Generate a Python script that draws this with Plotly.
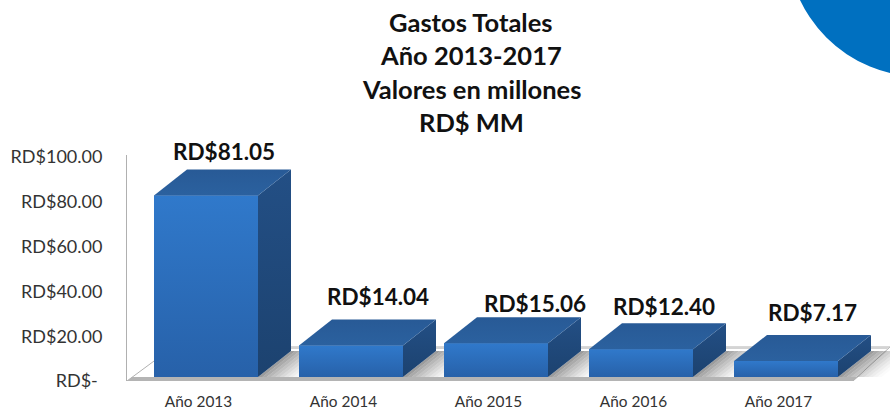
import plotly.graph_objects as go

years = ["Año 2013", "Año 2014", "Año 2015", "Año 2016", "Año 2017"]
values = [81.05, 14.04, 15.06, 12.40, 7.17]
value_labels = ["RD$81.05", "RD$14.04", "RD$15.06", "RD$12.40", "RD$7.17"]
y_ticks = [0, 20, 40, 60, 80, 100]
y_tick_labels = ["RD$-\u00a0", "RD$20.00", "RD$40.00", "RD$60.00", "RD$80.00", "RD$100.00"]
title_lines = ["Gastos Totales", "Año 2013-2017", "Valores en millones", "RD$ MM"]

# Layout constants (pixel frame of the plot area)
W, H = 890, 410
L, T, B = 127, 155, 29
X0_PX, X_STEP = 206, 145     # centre of first bar, px per category
Y0_PX, Y_STEP = 381, 2.24    # px of value 0, px per unit
BAR_W = 104 / X_STEP
HALF = BAR_W / 2
LIFT = 4 / Y_STEP            # bars stand slightly behind the floor's front edge
DX, DY = 33 / X_STEP, 26 / Y_STEP   # 3-D depth
TICK_NUDGE = -7.5 / X_STEP   # category labels sit a little left of the bar fronts
FONT = "Lato, Carlito, 'Open Sans', sans-serif"
INK = "#111111"


def xd(px):
    return (px - X0_PX) / X_STEP


def yd(px):
    return (Y0_PX - px) / Y_STEP


def poly(xs, ys):
    return "M" + " L".join(f"{a:.4f},{b:.4f}" for a, b in zip(xs, ys)) + " Z"


shapes = []
# floor
floor_back = yd(347)
shapes.append(dict(type="path", layer="below", xref="x", yref="y",
                   path=poly([xd(127), xd(853), xd(890), xd(173)], [0, 0, floor_back, floor_back]),
                   fillcolor="#ffffff", line=dict(color="#b0b0b0", width=1)))
# grey band under the bars, back edge band
shapes.append(dict(type="path", layer="below", xref="x", yref="y",
                   path=poly([xd(127), xd(853), xd(858), xd(132)], [0, 0, yd(377), yd(377)]),
                   fillcolor="#b4b4b4", line=dict(width=0)))
shapes.append(dict(type="path", layer="below", xref="x", yref="y",
                   path=poly([xd(173), xd(890), xd(887), xd(170)],
                             [floor_back, floor_back, yd(349), yd(349)]),
                   fillcolor="#d4d4d4", line=dict(width=0)))
# soft shadows to the right of every bar, in steps
steps = 10
for i in range(len(values)):
    right = i + HALF
    for s in range(steps):
        a = 0.6 * (1 - s / steps) ** 1.4
        w0, w1 = right + s * 0.03, right + (s + 1) * 0.03
        shapes.append(dict(type="path", layer="below", xref="x", yref="y",
                           path=poly([w0, w1, w1 + DX, w0 + DX],
                                     [LIFT, LIFT, LIFT + DY, LIFT + DY]),
                           fillcolor=f"rgba(90,90,90,{a:.3f})", line=dict(width=0)))
# decorative blue circle, top right corner
plot_w, plot_h = W - L, H - T - B
cx, cy, r = 921.4, -57.6, 134.4
shapes.append(dict(type="circle", layer="above", xref="paper", yref="paper",
                   x0=(cx - r - L) / plot_w, x1=(cx + r - L) / plot_w,
                   y0=1 - (cy + r - T) / plot_h, y1=1 - (cy - r - T) / plot_h,
                   fillcolor="#0070c0", line=dict(width=0)))

fig = go.Figure()
# front faces as real bars
fig.add_trace(go.Bar(x=list(range(len(values))), y=values, base=LIFT, width=BAR_W,
                     marker=dict(color="#2b6ab6", line=dict(width=0)),
                     hoverinfo="skip", showlegend=False))


def face(xs, ys, c_top, c_bot):
    fig.add_trace(go.Scatter(x=xs, y=ys, mode="lines", fill="toself",
                             line=dict(width=0), hoverinfo="skip", showlegend=False,
                             fillgradient=dict(type="vertical",
                                               colorscale=[[0, c_bot], [1, c_top]])))


for i, v in enumerate(values):
    l, rgt, b, t = i - HALF, i + HALF, LIFT, LIFT + v
    # front gradient
    face([l, rgt, rgt, l, l], [b, b, t, t, b], "#3079cb", "#2761a9")
    # right side
    face([rgt, rgt + DX, rgt + DX, rgt, rgt], [b, b + DY, t + DY, t, b], "#234f85", "#1c426f")
    # top
    face([l, rgt, rgt + DX, l + DX, l], [t, t, t + DY, t + DY, t], "#285a96", "#2b619f")

annotations = []
label_dx = [18, 27, 39, 23, 26]
label_dy = [44, 49, 40, 43, 48]
for i, (v, txt) in enumerate(zip(values, value_labels)):
    annotations.append(dict(x=i, y=v + LIFT, xref="x", yref="y", text=f"<b>{txt}</b>",
                            showarrow=False, xanchor="center", yanchor="middle",
                            xshift=label_dx[i], yshift=label_dy[i],
                            font=dict(family=FONT, size=22.5, color=INK)))
title_y = [22, 55, 89, 122]
for line, py in zip(title_lines, title_y):
    annotations.append(dict(x=(471 - L) / plot_w, y=1 - (py - T) / plot_h, xref="paper", yref="paper",
                            text=f"<b>{line}</b>", showarrow=False, xanchor="center", yanchor="middle",
                            font=dict(family=FONT, size=25.5, color=INK)))

fig.update_layout(
    width=W, height=H, autosize=False,
    margin=dict(l=L, r=0, t=T, b=B, pad=0, autoexpand=False),
    paper_bgcolor="white", plot_bgcolor="rgba(0,0,0,0)",
    showlegend=False, shapes=shapes, annotations=annotations,
    xaxis=dict(range=[xd(L), xd(W)], tickmode="array",
               tickvals=[i + TICK_NUDGE for i in range(len(years))],
               ticktext=years, showgrid=False, zeroline=False, showline=False, automargin=False,
               ticks="outside", ticklen=7, tickcolor="rgba(0,0,0,0)",
               tickfont=dict(family=FONT, size=15.4, color="#333333")),
    yaxis=dict(range=[0, yd(T)], tickmode="array", tickvals=y_ticks, ticktext=y_tick_labels,
               showgrid=False, zeroline=False, showline=True, linecolor="#b0b0b0", linewidth=1,
               automargin=False,
               ticks="outside", ticklen=20, tickcolor="rgba(0,0,0,0)",
               tickfont=dict(family=FONT, size=18, color="#333333")),
)

fig.write_html("out.html", config={"displayModeBar": False},
               post_script="document.body.style.margin='0';")
